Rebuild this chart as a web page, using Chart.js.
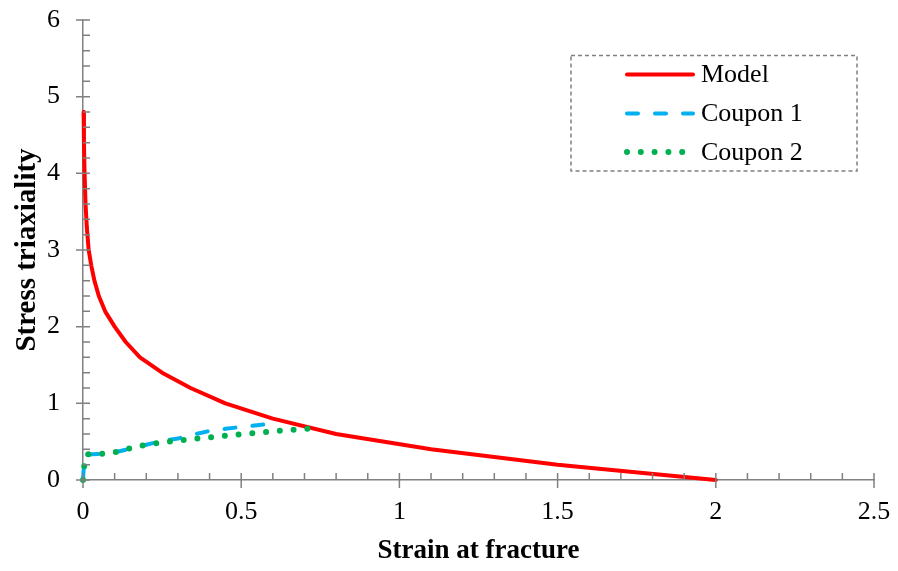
<!DOCTYPE html>
<html>
<head>
<meta charset="utf-8">
<script src="https://cdn.jsdelivr.net/npm/chart.js@4/dist/chart.umd.min.js"></script>
<style>
  html, body { margin: 0; padding: 0; background: #ffffff; }
  #wrap { width: 898px; height: 571px; position: relative; }
</style>
</head>
<body>
<div id="wrap"><canvas id="chart" width="898" height="571"></canvas></div>
<script>
// Fracture locus: model curve and two coupon loading paths
const seriesLabels = ['Model', 'Coupon 1', 'Coupon 2'];

const modelStrain = [0.002, 0.003, 0.005, 0.008, 0.012, 0.018, 0.026, 0.036, 0.05, 0.07, 0.1, 0.135, 0.18, 0.25, 0.34, 0.45, 0.6, 0.8, 1.1, 1.5, 2.0];
const modelTriax  = [4.8, 4.4, 4.0, 3.6, 3.3, 3.0, 2.8, 2.6, 2.4, 2.2, 2.0, 1.8, 1.6, 1.4, 1.2, 1.0, 0.8, 0.6, 0.4, 0.2, 0.0];

const coupon1Strain = [0, 0.005, 0.06, 0.1, 0.15, 0.2, 0.25, 0.3, 0.35, 0.4, 0.45, 0.5, 0.55, 0.6];
const coupon1Triax  = [0, 0.33, 0.34, 0.36, 0.41, 0.46, 0.51, 0.54, 0.595, 0.64, 0.668, 0.692, 0.715, 0.735];

const coupon2Strain = [0, 0.004, 0.012, 0.055, 0.1, 0.14, 0.18, 0.25, 0.35, 0.45, 0.55, 0.65, 0.745];
const coupon2Triax  = [0, 0.19, 0.335, 0.34, 0.36, 0.404, 0.445, 0.49, 0.535, 0.578, 0.617, 0.65, 0.678];

const xTickLabels = ['0', '0.5', '1', '1.5', '2', '2.5'];
const yTickLabels = ['0', '1', '2', '3', '4', '5', '6'];

const toPoints = (xs, ys) => xs.map((x, i) => ({ x: x, y: ys[i] }));

const FONT = "'Liberation Serif', 'Times New Roman', serif";
const AXIS_COLOR = '#808080';

// Major ticks straddle the axis, minor ticks point into the plot
const tickMarks = {
  id: 'tickMarks',
  afterDraw(chart) {
    const { ctx, scales: { x, y } } = chart;
    ctx.save();
    ctx.strokeStyle = AXIS_COLOR;
    ctx.lineWidth = 1.5;
    const x0 = x.getPixelForValue(0);
    const y0 = y.getPixelForValue(0);
    ctx.beginPath();
    for (let i = 0; i <= 25; i++) {
      const px = x.getPixelForValue(i / 10);
      const major = i % 5 === 0;
      ctx.moveTo(px, y0 - 7);
      ctx.lineTo(px, major ? y0 + 8 : y0);
    }
    for (let j = 0; j <= 30; j++) {
      const py = y.getPixelForValue(j / 5);
      const major = j % 5 === 0;
      ctx.moveTo(major ? x0 - 7 : x0, py);
      ctx.lineTo(x0 + 7, py);
    }
    ctx.stroke();
    ctx.restore();
  }
};

// Boxed legend with a dashed frame inside the plot area
const boxLegend = {
  id: 'boxLegend',
  afterDraw(chart) {
    const ctx = chart.ctx;
    const bx = 571, by = 55.5, bw = 286, bh = 115.5;
    ctx.save();
    ctx.strokeStyle = AXIS_COLOR;
    ctx.lineWidth = 1.5;
    ctx.setLineDash([4, 3]);
    ctx.strokeRect(bx, by, bw, bh);
    const rows = [74.5, 113.5, 152];
    chart.data.datasets.forEach((ds, i) => {
      const ly = rows[i];
      ctx.beginPath();
      ctx.strokeStyle = ds.borderColor;
      ctx.lineWidth = ds.borderWidth;
      ctx.lineCap = ds.borderCapStyle || 'butt';
      ctx.setLineDash(ds.borderDash || []);
      ctx.moveTo(627, ly);
      ctx.lineTo(i === 2 ? 690 : 693, ly);
      ctx.stroke();
      ctx.setLineDash([]);
      ctx.fillStyle = '#000000';
      ctx.font = '26px ' + FONT;
      ctx.textAlign = 'left';
      ctx.textBaseline = 'middle';
      ctx.fillText(ds.label, 701, ly + 1);
    });
    ctx.restore();
  }
};

new Chart(document.getElementById('chart'), {
  type: 'scatter',
  data: {
    datasets: [
      {
        label: seriesLabels[0],
        data: toPoints(modelStrain, modelTriax),
        showLine: true,
        borderColor: '#FF0000',
        borderWidth: 4,
        borderCapStyle: 'round',
        borderJoinStyle: 'round',
        pointRadius: 0,
        tension: 0,
        clip: false,
        order: 3
      },
      {
        label: seriesLabels[1],
        data: toPoints(coupon1Strain, coupon1Triax),
        showLine: true,
        borderColor: '#00B0F0',
        borderWidth: 4,
        borderDash: [11, 17],
        borderCapStyle: 'round',
        borderJoinStyle: 'round',
        pointRadius: 0,
        tension: 0,
        clip: false,
        order: 2
      },
      {
        label: seriesLabels[2],
        data: toPoints(coupon2Strain, coupon2Triax),
        showLine: true,
        borderColor: '#00B050',
        borderWidth: 6,
        borderDash: [0, 13.8],
        borderCapStyle: 'round',
        borderJoinStyle: 'round',
        pointRadius: 0,
        tension: 0,
        clip: false,
        order: 1
      }
    ]
  },
  options: {
    responsive: false,
    animation: false,
    layout: { padding: { left: 0, right: 24, top: 20, bottom: 0 } },
    plugins: {
      legend: { display: false },
      tooltip: { enabled: false }
    },
    scales: {
      x: {
        type: 'linear',
        min: 0,
        max: 2.5,
        afterFit(scale) {
          scale.height = 91;
          scale.paddingLeft = 0;
          scale.paddingRight = 0;
        },
        afterBuildTicks(scale) {
          scale.ticks = xTickLabels.map(t => ({ value: parseFloat(t) }));
        },
        ticks: {
          padding: 17,
          color: '#000000',
          font: { family: FONT, size: 26 },
          maxRotation: 0,
          callback: (v, i) => xTickLabels[i]
        },
        grid: { drawOnChartArea: false, drawTicks: false },
        border: { display: true, color: AXIS_COLOR, width: 1.5 },
        title: {
          display: true,
          text: 'Strain at fracture',
          color: '#000000',
          font: { family: FONT, size: 27, weight: 'bold' },
          padding: { top: 0, bottom: 4 }
        }
      },
      y: {
        type: 'linear',
        min: 0,
        max: 6,
        afterFit(scale) {
          scale.width = 83;
          scale.paddingTop = 0;
          scale.paddingBottom = 0;
        },
        afterBuildTicks(scale) {
          scale.ticks = yTickLabels.map(t => ({ value: parseFloat(t) }));
        },
        ticks: {
          padding: 23,
          color: '#000000',
          font: { family: FONT, size: 26 },
          callback: (v, i) => yTickLabels[i]
        },
        grid: { drawOnChartArea: false, drawTicks: false },
        border: { display: true, color: AXIS_COLOR, width: 1.5 },
        title: {
          display: true,
          text: 'Stress triaxiality',
          color: '#000000',
          font: { family: FONT, size: 29, weight: 'bold' },
          padding: { top: 10, bottom: 0 }
        }
      }
    }
  },
  plugins: [tickMarks, boxLegend]
});
</script>
</body>
</html>
